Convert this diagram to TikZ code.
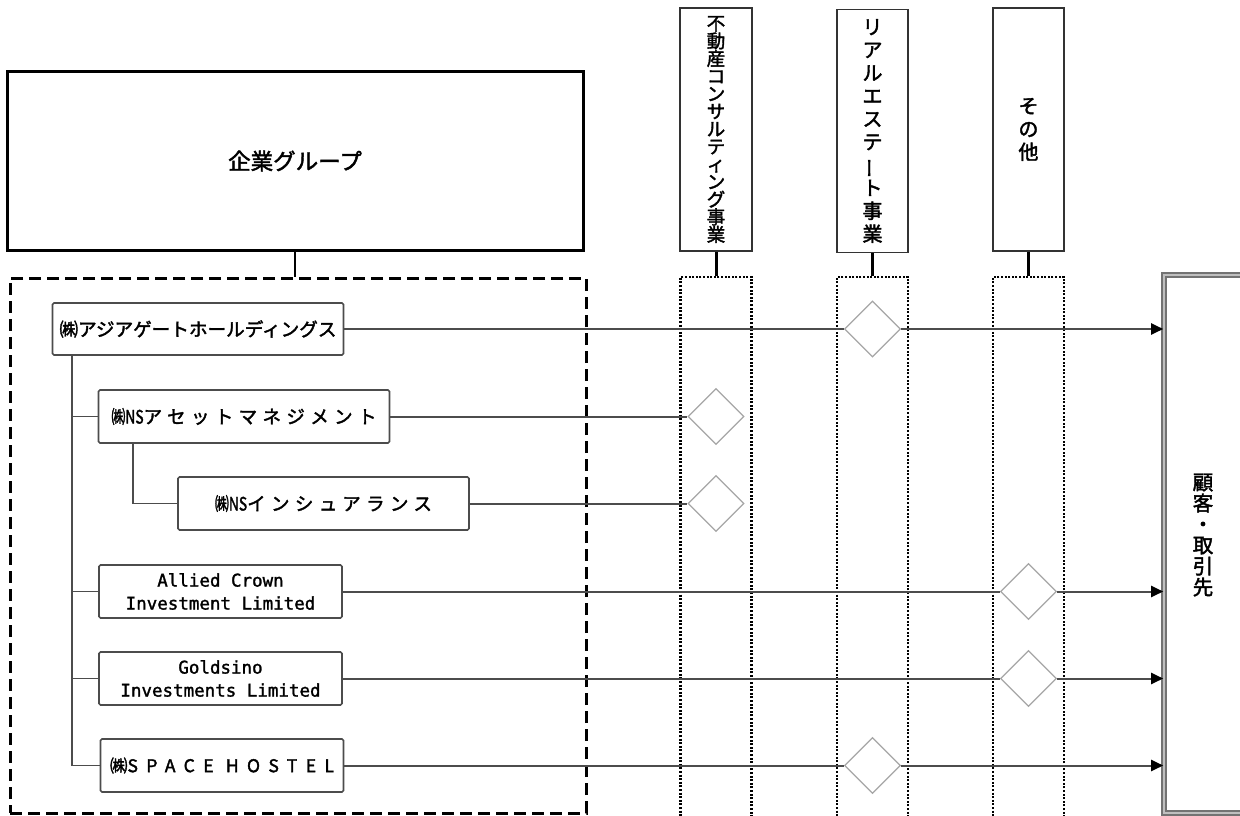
\documentclass[tikz,border=0pt]{standalone}
\usepackage{fontspec}
\setmainfont{Noto Sans CJK JP}[FakeBold=2]
\newfontfamily\jpsp{Noto Sans CJK JP}[LetterSpace=29,FakeBold=2]
\newfontfamily\jpwide{Noto Sans CJK JP}[LetterSpace=48,FakeBold=2]
\newfontfamily\mono{DejaVu Sans Mono}[FakeBold=1.5]
\usetikzlibrary{shapes.geometric,arrows.meta}
\newcommand{\vbar}{\rotatebox[origin=c]{90}{ー}}
\newcommand{\kk}{\scalebox{0.75}[1]{㈱NS}}
\tikzset{
  cbox/.style={draw=black!70, line width=1.7pt, rounded corners=1.5pt, fill=white, inner sep=0pt, align=center},
  hbox/.style={draw=black!80, line width=1.8pt, inner sep=0pt, align=center, fill=white},
  colbox/.style={draw=black, line width=2.2pt, dash pattern=on 2pt off 1.6pt, inner sep=0pt},
  dia/.style={diamond, draw=black!35, line width=1.3pt, fill=white, minimum width=56pt, minimum height=56pt, inner sep=0pt, shape aspect=1},
  flow/.style={draw=black!70, line width=2pt},
  arr/.style={flow, -{Triangle[length=12pt,width=11pt,color=black]}},
  tree/.style={draw=black!70, line width=1.7pt},
  hook/.style={draw=black, line width=3pt},
}
\begin{document}
\begin{tikzpicture}[x=1pt,y=-1pt]
\useasboundingbox (0,0) rectangle (1240,816);
\clip (0,0) rectangle (1240,816);

% dotted business columns
\node[colbox, minimum width=71pt, minimum height=552pt] (c1) at (716,553) {};
\node[colbox, minimum width=71pt, minimum height=552pt] (c2) at (872.5,553) {};
\node[colbox, minimum width=71pt, minimum height=552pt] (c3) at (1028.5,553) {};

% header boxes
\node[hbox, minimum width=72pt, minimum height=243pt, font=\fontsize{18.5}{17.6}\selectfont] (h1) at (716,129.5)
  {不\\動\\産\\コ\\ン\\サ\\ル\\テ\\ィ\\ン\\グ\\事\\業};
\node[hbox, minimum width=71pt, minimum height=243pt, font=\fontsize{20}{23}\selectfont] (h2) at (872.5,131)
  {リ\\ア\\ル\\エ\\ス\\テ\\\vbar\\ト\\事\\業};
\node[hbox, minimum width=71pt, minimum height=243pt, font=\fontsize{20}{23}\selectfont] (h3) at (1028.5,129.5)
  {そ\\の\\他};
\draw[hook] (h1.south) -- (c1.north);
\draw[hook] (h2.south) -- (c2.north);
\draw[hook] (h3.south) -- (c3.north);

% clients box
\node[draw=black!55, double=black!25, double distance=2pt, line width=1.6pt, minimum width=86pt, minimum height=538pt, inner sep=0pt] (client) at (1207,544) {};
\node[align=center, inner sep=0pt, font=\fontsize{20.5}{21}\selectfont] (clientlabel) at (1203,535) {顧\\客\\・\\取\\引\\先};

% corporate group
\node[draw=black, line width=3pt, minimum width=576pt, minimum height=178pt, inner sep=0pt, font=\fontsize{22.5}{26}\selectfont] (group) at (295,161) {企業グループ};
\node[draw=black, line width=3pt, dash pattern=on 12pt off 6pt, minimum width=576pt, minimum height=535pt, inner sep=0pt] (grp) at (298,545.5) {};
\draw[draw=black, line width=2.5pt] (group.south) -- (group.south |- grp.north);

% companies
\node[cbox, minimum width=291pt, minimum height=52pt, font=\fontsize{18.6}{20}\selectfont] (a1) at (198,329) {㈱アジアゲートホールディングス};
\node[cbox, minimum width=291pt, minimum height=53pt, font=\fontsize{18.5}{20}\selectfont] (a2) at (244,416.5) {\kk\jpsp アセットマネジメント};
\node[cbox, minimum width=291pt, minimum height=53pt, font=\fontsize{18.5}{20}\selectfont] (a3) at (323.5,503.5) {\kk\jpsp インシュアランス};
\node[cbox, minimum width=243pt, minimum height=53pt, font=\mono\fontsize{17.5}{23}\selectfont] (a4) at (220.5,591.5) {Allied Crown\\Investment Limited};
\node[cbox, minimum width=243pt, minimum height=53pt, font=\mono\fontsize{17.5}{23}\selectfont] (a5) at (220.5,678.5) {Goldsino\\Investments Limited};
\node[cbox, minimum width=243pt, minimum height=53pt, font=\fontsize{17.5}{20}\selectfont] (a6) at (222,765.5) {㈱{\jpwide SPACE HOSTEL}};

% tree
\coordinate (trunk) at (72,0);
\coordinate (sub) at (133,0);
\draw[tree] (trunk |- a1.south) |- (a6.west);
\draw[tree] (trunk |- a2.west) -- (a2.west);
\draw[tree] (trunk |- a4.west) -- (a4.west);
\draw[tree] (trunk |- a5.west) -- (a5.west);
\draw[tree] (sub |- a2.south) |- (a3.west);

% diamonds
\node[dia] (d1) at (872.5,329) {};
\node[dia] (d2) at (716,416.5) {};
\node[dia] (d3) at (716,503.5) {};
\node[dia] (d4) at (1028.5,591.5) {};
\node[dia] (d5) at (1028.5,678.5) {};
\node[dia] (d6) at (872.5,765.5) {};

% flows
\draw[flow] (a1.east) -- (d1.west);
\draw[arr] (d1.east) -- (d1.east -| client.west);
\draw[flow] (a2.east) -- (d2.west);
\draw[flow] (a3.east) -- (d3.west);
\draw[flow] (a4.east) -- (d4.west);
\draw[arr] (d4.east) -- (d4.east -| client.west);
\draw[flow] (a5.east) -- (d5.west);
\draw[arr] (d5.east) -- (d5.east -| client.west);
\draw[flow] (a6.east) -- (d6.west);
\draw[arr] (d6.east) -- (d6.east -| client.west);
\end{tikzpicture}
\end{document}
